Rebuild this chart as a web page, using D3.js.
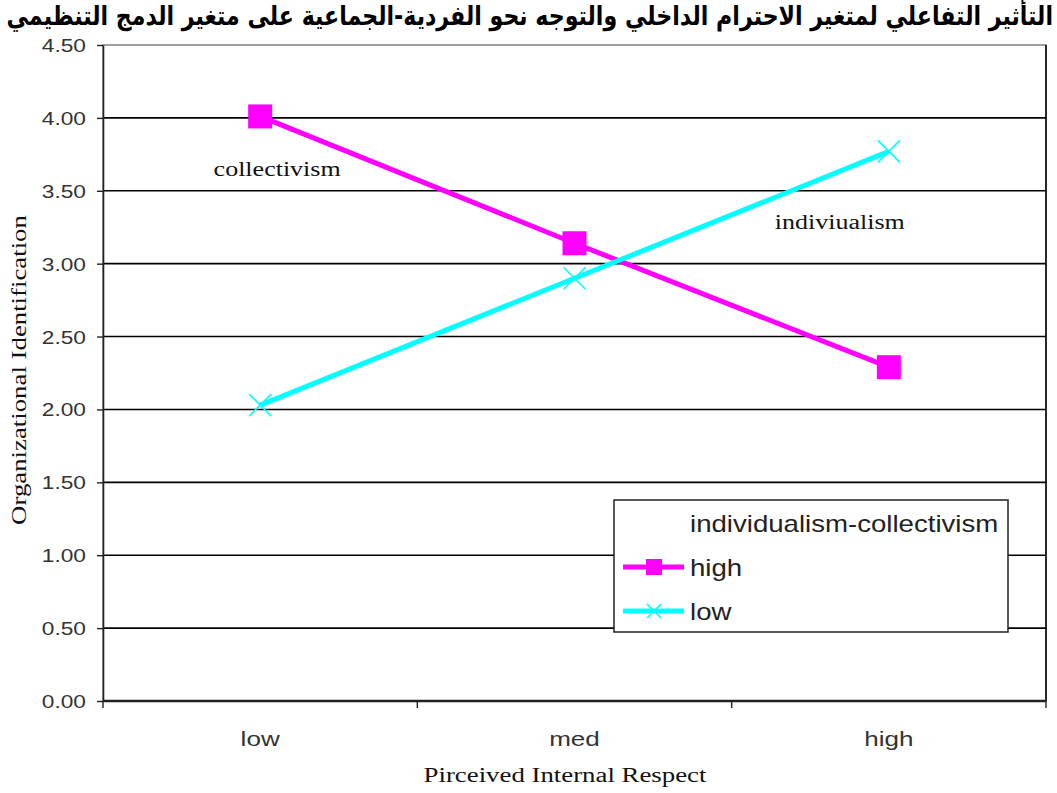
<!DOCTYPE html>
<html><head><meta charset="utf-8">
<script src="https://cdn.jsdelivr.net/npm/d3@7"></script>
<style>body{margin:0;background:#fff}svg{display:block}</style>
</head><body>
<script>
const title = "التأثير التفاعلي لمتغير الاحترام الداخلي والتوجه نحو الفردية-الجماعية على متغير الدمج التنظيمي";
const categories = ["low", "med", "high"];
const seriesNames = ["high", "low"];
const highValues = [4.01, 3.14, 2.29];
const lowValues = [2.03, 2.90, 3.77];
const yTicks = [0, 0.5, 1, 1.5, 2, 2.5, 3, 3.5, 4, 4.5];
const legendTitle = "individualism-collectivism";
const xTitle = "Pirceived Internal Respect";
const yTitle = "Organizational Identification";
const annotations = [{text: "collectivism", cat: "low", v: 3.60, dx: 17}, {text: "indiviualism", cat: "high", v: 3.24, dx: -49}];

const W = 1057, H = 793;
const m = {left: 103, right: 11, top: 45, bottom: 92};
const svg = d3.select("body").append("svg").attr("width", W).attr("height", H);
const x = d3.scaleBand().domain(categories).range([m.left, W - m.right]);
const y = d3.scaleLinear().domain([0, 4.5]).range([H - m.bottom, m.top]);
const sans = "Arial, 'Liberation Sans', sans-serif";
const serif = "'Liberation Serif', 'Times New Roman', serif";
function stretch(sel, k) {
  sel.each(function() {
    const w = this.getComputedTextLength();
    if (w > 0) d3.select(this).attr("textLength", w * k).attr("lengthAdjust", "spacingAndGlyphs");
  });
}

// plot border
svg.append("rect").attr("x", m.left).attr("y", m.top).attr("width", W - m.right - m.left).attr("height", H - m.bottom - m.top)
  .attr("fill", "#fff").attr("stroke", "#808080").attr("stroke-width", 1.5);
svg.append("line").attr("x1", W - m.right).attr("x2", W - m.right).attr("y1", m.top).attr("y2", H - m.bottom).attr("stroke", "#000").attr("stroke-width", 1.5);

// gridlines
svg.append("g").selectAll("line").data(yTicks.filter(t => t > 0 && t < 4.5)).join("line")
  .attr("x1", m.left).attr("x2", W - m.right).attr("y1", d => y(d)).attr("y2", d => y(d))
  .attr("stroke", "#000").attr("stroke-width", 1.6);

// y axis
const ya = svg.append("g").attr("transform", `translate(${m.left},0)`)
  .call(d3.axisLeft(y).tickValues(yTicks).tickFormat(d3.format(".2f")).tickSize(6).tickSizeOuter(0));
ya.select(".domain").attr("stroke", "#222").attr("stroke-width", 1.6);
ya.selectAll(".tick line").attr("stroke", "#222").attr("stroke-width", 1.4);
ya.selectAll(".tick text").attr("font-family", sans).attr("font-size", 18).attr("fill", "#333").attr("x", -17).attr("dy", "0.36em");
stretch(ya.selectAll(".tick text"), 1.26);

// x axis
const xa = svg.append("g").attr("transform", `translate(0,${H - m.bottom})`);
xa.append("line").attr("x1", m.left).attr("x2", W - m.right).attr("stroke", "#222").attr("stroke-width", 2.5);
const bounds = [m.left, ...categories.map(c => x(c) + x.bandwidth())];
xa.selectAll(".xt").data(bounds).join("line").attr("class", "xt")
  .attr("x1", d => d).attr("x2", d => d).attr("y1", 0).attr("y2", 7).attr("stroke", "#222").attr("stroke-width", 1.4);
xa.selectAll(".xl").data(categories).join("text").attr("class", "xl")
  .attr("x", d => x(d) + x.bandwidth() / 2).attr("y", 45).attr("text-anchor", "middle")
  .attr("font-family", sans).attr("font-size", 21).attr("fill", "#333").text(d => d);
stretch(xa.selectAll(".xl"), 1.24);

// axis titles
const xt = svg.append("text").attr("x", 565).attr("y", 782).attr("text-anchor", "middle")
  .attr("font-family", serif).attr("font-size", 20).attr("fill", "#111").text(xTitle);
stretch(xt, 1.34);
const yt = svg.append("text").attr("transform", `translate(26,370) rotate(-90)`).attr("text-anchor", "middle")
  .attr("font-family", serif).attr("font-size", 20).attr("fill", "#111").text(yTitle);
stretch(yt, 1.34);

// title
const tg = svg.append("g").attr("transform", "translate(1053,25) scale(1,1.22)");
const t = tg.append("text").attr("x", 0).attr("y", 0).attr("text-anchor", "end")
  .attr("font-family", "'DejaVu Sans', 'Noto Sans', sans-serif").attr("font-weight", "bold").attr("font-size", 22).attr("fill", "#000")
  .text(title);
const tw = t.node().getComputedTextLength();
if (tw > 200) t.attr("font-size", Math.min(26, 22 * 1046 / tw));

const cx = c => x(c) + x.bandwidth() / 2;
const line = d3.line().x((d, i) => cx(categories[i])).y(d => y(d));
const colors = {high: "#FF00FF", low: "#00FFFF"};

// annotations
const an = svg.selectAll(".ann").data(annotations).join("text").attr("class", "ann")
  .attr("x", d => cx(d.cat) + d.dx).attr("y", d => y(d.v)).attr("text-anchor", "middle")
  .attr("font-family", serif).attr("font-size", 20).attr("fill", "#111").text(d => d.text);
stretch(an, 1.3);

// series
svg.append("path").datum(highValues).attr("d", line).attr("fill", "none").attr("stroke", colors.high).attr("stroke-width", 5);
svg.append("path").datum(lowValues).attr("d", line).attr("fill", "none").attr("stroke", colors.low).attr("stroke-width", 5);
svg.selectAll(".sq").data(highValues).join("rect").attr("class", "sq")
  .attr("x", (d, i) => cx(categories[i]) - 12).attr("y", d => y(d) - 12).attr("width", 24).attr("height", 24).attr("fill", colors.high);
const xm = (g, px, py, s) => g.append("path").attr("d", `M${px - s},${py - s}L${px + s},${py + s}M${px - s},${py + s}L${px + s},${py - s}`)
  .attr("stroke", colors.low).attr("stroke-width", 1.6).attr("fill", "none");
lowValues.forEach((d, i) => xm(svg, cx(categories[i]), y(d), 11));

// legend
const lg = svg.append("g");
lg.append("rect").attr("x", 614).attr("y", 500).attr("width", 394).attr("height", 132).attr("fill", "#fff").attr("stroke", "#222").attr("stroke-width", 1.5);
const ltt = lg.append("text").attr("x", 690).attr("y", 532).attr("font-family", sans).attr("font-size", 24).attr("fill", "#222").text(legendTitle);
stretch(ltt, 1.15);
seriesNames.forEach((s, i) => {
  const ly = 567 + i * 44;
  lg.append("line").attr("x1", 623).attr("x2", 684).attr("y1", ly).attr("y2", ly).attr("stroke", colors[s]).attr("stroke-width", 5);
  if (s === "high") lg.append("rect").attr("x", 646).attr("y", ly - 8).attr("width", 16).attr("height", 16).attr("fill", colors.high);
  else xm(lg, 654, ly, 7);
  const lt = lg.append("text").attr("x", 690).attr("y", ly + 9).attr("font-family", sans).attr("font-size", 24).attr("fill", "#222").text(s);
  stretch(lt, 1.15);
});
</script>
</body></html>
